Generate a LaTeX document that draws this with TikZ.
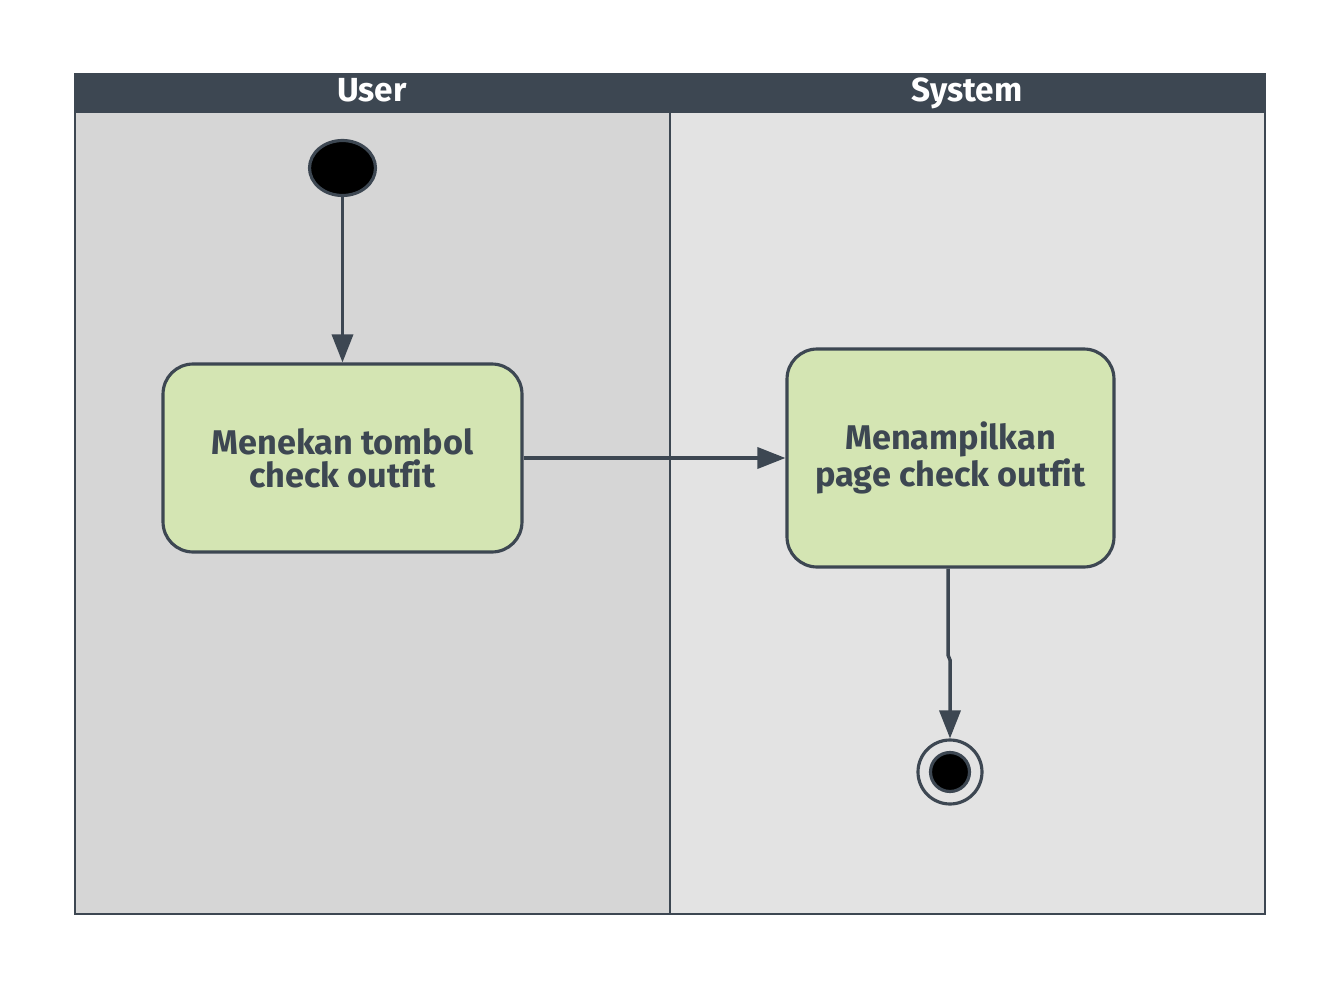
\documentclass[tikz,border=0pt]{standalone}
\usepackage{fontspec}
\setmainfont{Fira Sans}[Ligatures=NoCommon]
\usepackage{xcolor}
\usepackage{tikz}
\usetikzlibrary{arrows.meta,shapes,positioning}
\definecolor{slate}{HTML}{3D4752}
\definecolor{laneuser}{HTML}{D6D6D6}
\definecolor{lanesys}{HTML}{E3E3E3}
\definecolor{actgreen}{HTML}{D4E5B3}

\begin{document}
\begin{tikzpicture}[x=0.02cm, y=-0.02cm,
    action/.style={draw=slate, fill=actgreen, line width=1.8pt, rounded corners=0.6cm,
        text=slate, font=\fontsize{19.5}{18.7}\selectfont\bfseries, align=center, inner sep=0pt},
    lanetitle/.style={white, font=\fontsize{19}{20}\selectfont\bfseries, text height=13pt, text depth=3pt},
    flow/.style={draw=slate, line width=2pt, -{Triangle[width=12pt, length=16pt]}}]
            \useasboundingbox (0,0) rectangle (1343,990);
            % Swimlanes
            \fill[laneuser] (75,113) rectangle (670,914);
            \fill[lanesys] (670,113) rectangle (1265,914);
            \fill[slate] (75,74) rectangle (1265,113);
            \draw[slate, line width=0.8pt] (75,74) rectangle (1265,914);
            \draw[slate, line width=0.8pt] (670,113) -- (670,914);
            
            % Lane titles
            \node[lanetitle] (user) at (372,93) {User};
            \node[lanetitle] (system) at (967,93) {System};
            
            % Start and end
            \node[draw=slate, fill=black, line width=1.8pt, ellipse, minimum width=1.32cm, minimum height=1.1cm, inner sep=0pt] (start) at (342.5,168) {};
            \node[draw=slate, fill=lanesys, line width=1.8pt, circle, minimum size=1.28cm, inner sep=0pt] (finish) at (950,772) {};
            \node[draw=slate, fill=black, line width=1.8pt, circle, minimum size=0.78cm, inner sep=0pt] (finishdot) at (950,772) {};
            
            % Activities
            \node[action, minimum width=7.18cm, minimum height=3.76cm] (press) at (342.5,458) {Menekan tombol\\check outfit};
            \node[action, minimum width=6.54cm, minimum height=4.36cm] (show) at (950.5,458) {Menampilkan\\page check outfit};
            
            % Arrows
            \coordinate (jogtop) at (948,655);
            \coordinate (jogbot) at (950,660);
            \draw[flow] (start) -- (press);
            \draw[flow] (press.east) -- (show.west);
            \draw[flow] (show.south -| jogtop) -- (jogtop) -- (jogbot) -- (finish.north);
        \end{tikzpicture}
\end{document}
